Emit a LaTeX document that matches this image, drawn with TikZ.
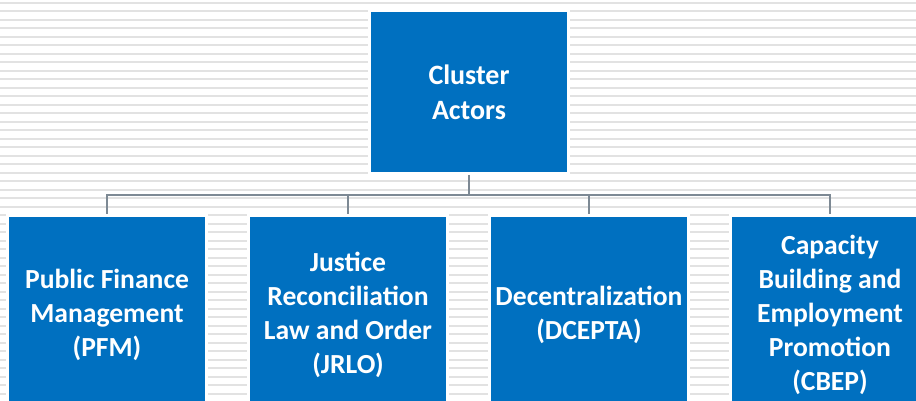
\documentclass[tikz,border=0pt]{standalone}
\usepackage{fontspec}
\setmainfont{Carlito}
\usetikzlibrary{calc}
\definecolor{boxblue}{RGB}{0,112,192}
\definecolor{conncol}{RGB}{125,137,148}
\definecolor{stripecol}{RGB}{226,226,226}
\begin{document}
\begin{tikzpicture}[x=1pt,y=-1pt,
  box/.style={fill=boxblue, draw=white, line width=3pt, inner sep=0pt,
    text=white, align=center, font=\bfseries\fontsize{27.6}{34}\selectfont,
    minimum width=199pt, minimum height=199pt},
  conn/.style={draw=conncol, line width=2.2pt},
  stripe/.style={draw=stripecol, line width=1.8pt}]
\useasboundingbox (0,0) rectangle (916,401);
\clip (0,0) rectangle (916,401);
\fill[white] (0,0) rectangle (916,401);
\foreach \i in {0,...,47} \draw[stripe] (0,2.7+8.5*\i) -- (916,2.7+8.5*\i);
\node[box, minimum height=163pt, font=\bfseries\fontsize{28}{35}\selectfont] (top) at (469,92) {Cluster\\Actors};
\node[box] (pfm) at (107,315) {Public Finance\\Management\\(PFM)};
\node[box] (jrlo) at (348,315) {Justice\\Reconciliation\\Law and Order\\(JRLO)};
\node[box] (dc) at (589,315) {Decentralization\\(DCEPTA)};
\node[box] (cbep) at (830,315) {Capacity\\Building and\\Employment\\Promotion\\(CBEP)};
\coordinate (hub) at ($(top.south)+(0,20)$);
\draw[conn] (top.south) -- (hub);
\draw[conn] (hub) -| (pfm.north);
\draw[conn] (hub) -| (jrlo.north);
\draw[conn] (hub) -| (dc.north);
\draw[conn] (hub) -| (cbep.north);
\end{tikzpicture}
\end{document}
